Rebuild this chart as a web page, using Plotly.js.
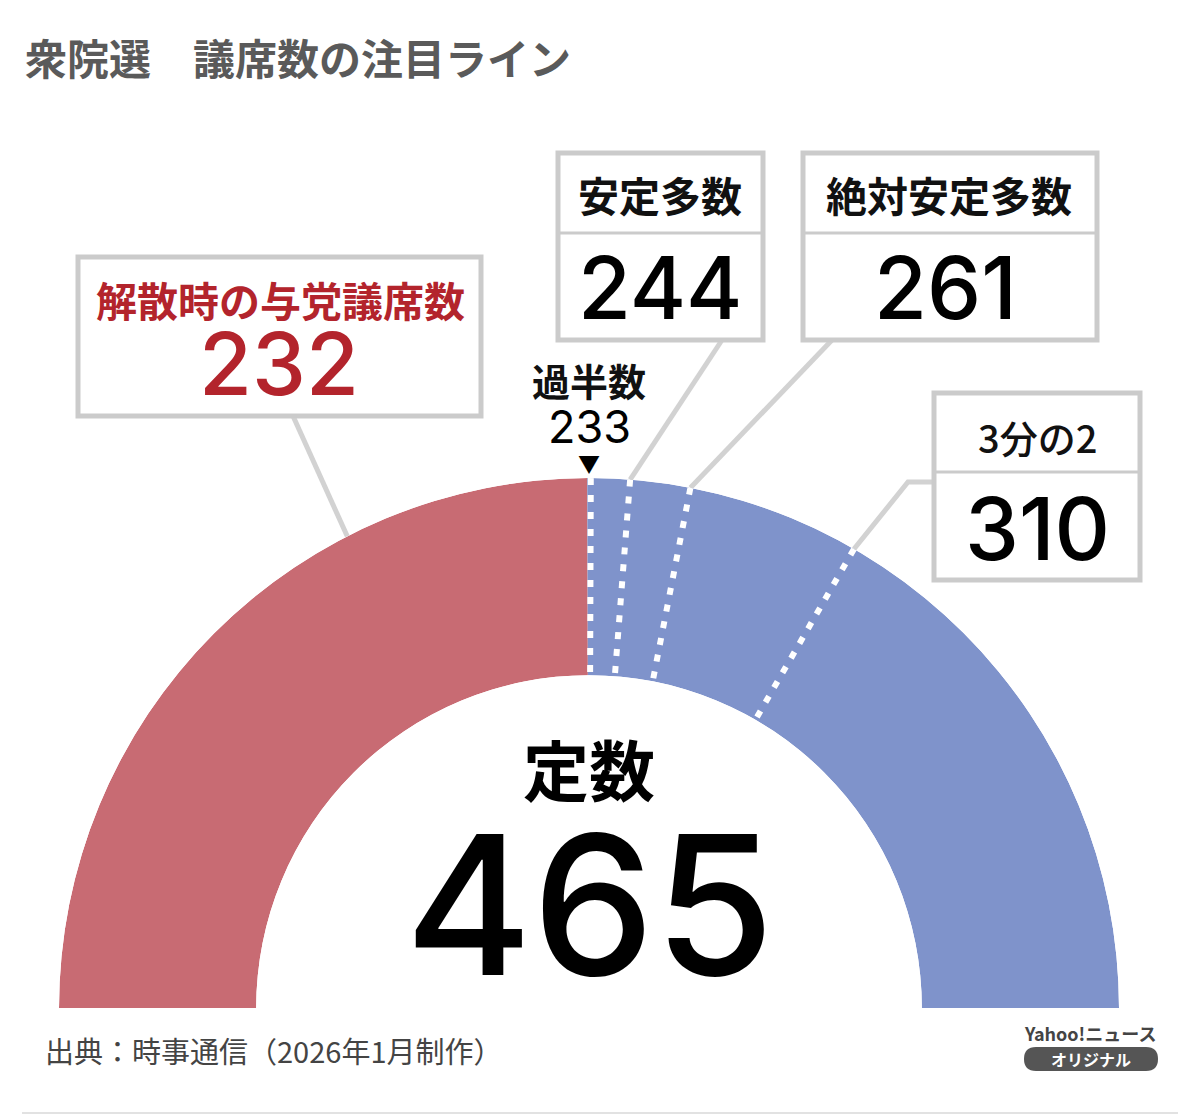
<!DOCTYPE html>
<html><head><meta charset="utf-8">
<script src="https://cdn.plot.ly/plotly-3.0.1.min.js"></script>
<style>html,body{margin:0;padding:0;background:#fff;}#chart{width:1200px;height:1116px;}</style>
</head><body><div id="chart"></div>
<script>
// ---- data ----
const totalSeats = 465;
const blocLabels = ['解散時の与党議席数', 'その他'];
const blocSeats = [232, 233];
const blocColors = ['#c86b73', '#7f93cb'];
const lineLabels = ['過半数', '安定多数', '絶対安定多数', '3分の2'];
const lineSeats = [233, 244, 261, 310];
const titleText = '衆院選　議席数の注目ライン';
const centerLabel = '定数';
const sourceText = '出典：時事通信（2026年1月制作）';

// ---- geometry (layout) ----
const W = 1200, H = 1116;
const CX = 589, CY = 1008, R = 530, HOLE = 0.628;
const px = x => x / W, py = y => 1 - y / H;
const deg = s => s / totalSeats * 180;
function arcPt(seats, rf) {
  const a = Math.PI - deg(seats) * Math.PI / 180;
  return [CX + R * rf * Math.cos(a), CY - R * rf * Math.sin(a)];
}
const JP = '"Noto Sans CJK JP", "Noto Sans", sans-serif';
const NUM = 'Inter, Roboto, "Liberation Sans", Arial, sans-serif';

// ---- traces ----
let acc = 0; const thetas = [], widths = [];
blocSeats.forEach(s => { thetas.push(deg(acc + s / 2)); widths.push(deg(s)); acc += s; });
const traces = [{
  type: 'barpolar', r: blocSeats.map(() => 1), base: blocSeats.map(() => 0),
  theta: thetas, width: widths, text: blocLabels,
  marker: {color: blocColors, line: {width: 0}}, hoverinfo: 'skip'
}];
lineSeats.forEach((v, i) => {
  traces.push({
    type: 'scatterpolar', mode: 'lines', r: [1, 0], theta: [deg(v), deg(v)], name: lineLabels[i],
    line: {color: '#ffffff', width: 6, dash: '7px,10px'}, hoverinfo: 'skip'
  });
});

// ---- boxes, leaders, labels ----
const shapes = [], annotations = [];
const BOX = '#cbcbcb', LEAD = '#d2d2d2';
function box(x0, y0, x1, y1, div) {
  shapes.push({type: 'rect', xref: 'paper', yref: 'paper', x0: px(x0), x1: px(x1), y0: py(y1), y1: py(y0),
    fillcolor: '#ffffff', line: {color: BOX, width: 5}, layer: 'above'});
  if (div) shapes.push({type: 'line', xref: 'paper', yref: 'paper', x0: px(x0), x1: px(x1), y0: py(div), y1: py(div),
    line: {color: BOX, width: 3}, layer: 'above'});
}
function pathOf(cmds) {
  return cmds.map(c => c[0] + c.slice(1).map((v, i) => (i % 2 ? py(v) : px(v))).reduce((s, v, i) => s + (i ? (i % 2 ? ',' : ' ') : '') + v, '')).join(' ');
}
function leader(pts) {
  const d = pts.map((p, i) => (i ? 'L' : 'M') + px(p[0]) + ',' + py(p[1])).join(' ');
  shapes.push({type: 'path', xref: 'paper', yref: 'paper', path: d, line: {color: LEAD, width: 5}, layer: 'below'});
}
function txt(t, x, y, size, color, family, weight, extra) {
  annotations.push(Object.assign({text: t, xref: 'paper', yref: 'paper', x: px(x), y: py(y),
    xanchor: 'center', yanchor: 'middle', showarrow: false,
    font: {size: size, color: color, family: family, weight: weight}}, extra || {}));
}

leader([[293, 416], arcPt(blocSeats[0] * 0.7, 1)]);
leader([[722, 340], arcPt(lineSeats[1], 1)]);
leader([[832, 340], arcPt(lineSeats[2], 1)]);
leader([[936, 482], [908, 482], arcPt(lineSeats[3], 1)]);

box(78, 257, 481, 416, null);
box(558, 153, 763, 340, 233);
box(803, 153, 1097, 340, 233);
box(934, 393, 1140, 580, 472);

// rounded pill behind the "オリジナル" badge
(function () {
  const x0 = 1024, x1 = 1158, y0 = 1047, y1 = 1071, r = 12;
  const d = pathOf([['M', x0 + r, y0], ['L', x1 - r, y0], ['Q', x1, y0, x1, y0 + r], ['Q', x1, y1, x1 - r, y1],
    ['L', x0 + r, y1], ['Q', x0, y1, x0, y1 - r], ['Q', x0, y0, x0 + r, y0]]) + ' Z';
  shapes.push({type: 'path', xref: 'paper', yref: 'paper', path: d, fillcolor: '#555555', line: {width: 0}, layer: 'above'});
})();

txt(blocLabels[0], 280, 299, 41, '#b3242c', JP, 700);
txt(String(blocSeats[0]), 279, 364, 86, '#b3242c', NUM, 500);
txt(lineLabels[1], 660, 194, 41, '#111', JP, 700);
txt(String(lineSeats[1]), 660, 288, 86, '#000', NUM, 500);
txt(lineLabels[2], 949, 194, 41, '#111', JP, 700);
txt(String(lineSeats[2]), 945, 288, 86, '#000', NUM, 500);
txt(lineLabels[3], 1037, 436, 38, '#111', JP, 500);
txt(String(lineSeats[3]), 1037, 529, 86, '#000', NUM, 500);
txt(lineLabels[0], 589, 379, 38, '#111', JP, 700);
txt(String(lineSeats[0]), 589, 426, 45, '#000', NUM, 400);
txt('▼', 589, 462, 22, '#000', JP, 400);
txt(centerLabel, 589, 767, 66, '#000', JP, 700);
txt(String(totalSeats), 589, 904, 194, '#000', NUM, 500);
txt(sourceText, 43, 1050, 29, '#444', JP, 400, {xanchor: 'left'});
txt('Yahoo!ニュース', 1158, 1033, 18, '#444', JP, 700, {xanchor: 'right'});
txt('オリジナル', 1091, 1059, 16, '#fff', JP, 700);
shapes.push({type: 'line', xref: 'paper', yref: 'paper', x0: px(22), x1: px(1178), y0: py(1113), y1: py(1113),
  line: {color: '#e2e2e2', width: 2}});

const layout = {
  width: W, height: H, margin: {l: 0, r: 0, t: 0, b: 0},
  paper_bgcolor: '#ffffff', showlegend: false,
  title: {text: titleText, x: px(25), xanchor: 'left', xref: 'paper', y: py(60), yanchor: 'middle',
    font: {size: 42, color: '#5a5a5a', family: JP, weight: 700}},
  polar: {
    domain: {x: [px(CX - R), px(CX + R)], y: [py(CY), py(CY - R)]},
    sector: [0, 180], hole: HOLE, bgcolor: 'rgba(0,0,0,0)', bargap: 0,
    radialaxis: {range: [0, 1], visible: false, showgrid: false},
    angularaxis: {rotation: 180, direction: 'clockwise', visible: false, showgrid: false, showline: false}
  },
  shapes: shapes, annotations: annotations
};
Plotly.newPlot('chart', traces, layout, {displayModeBar: false, staticPlot: true});
</script></body></html>
